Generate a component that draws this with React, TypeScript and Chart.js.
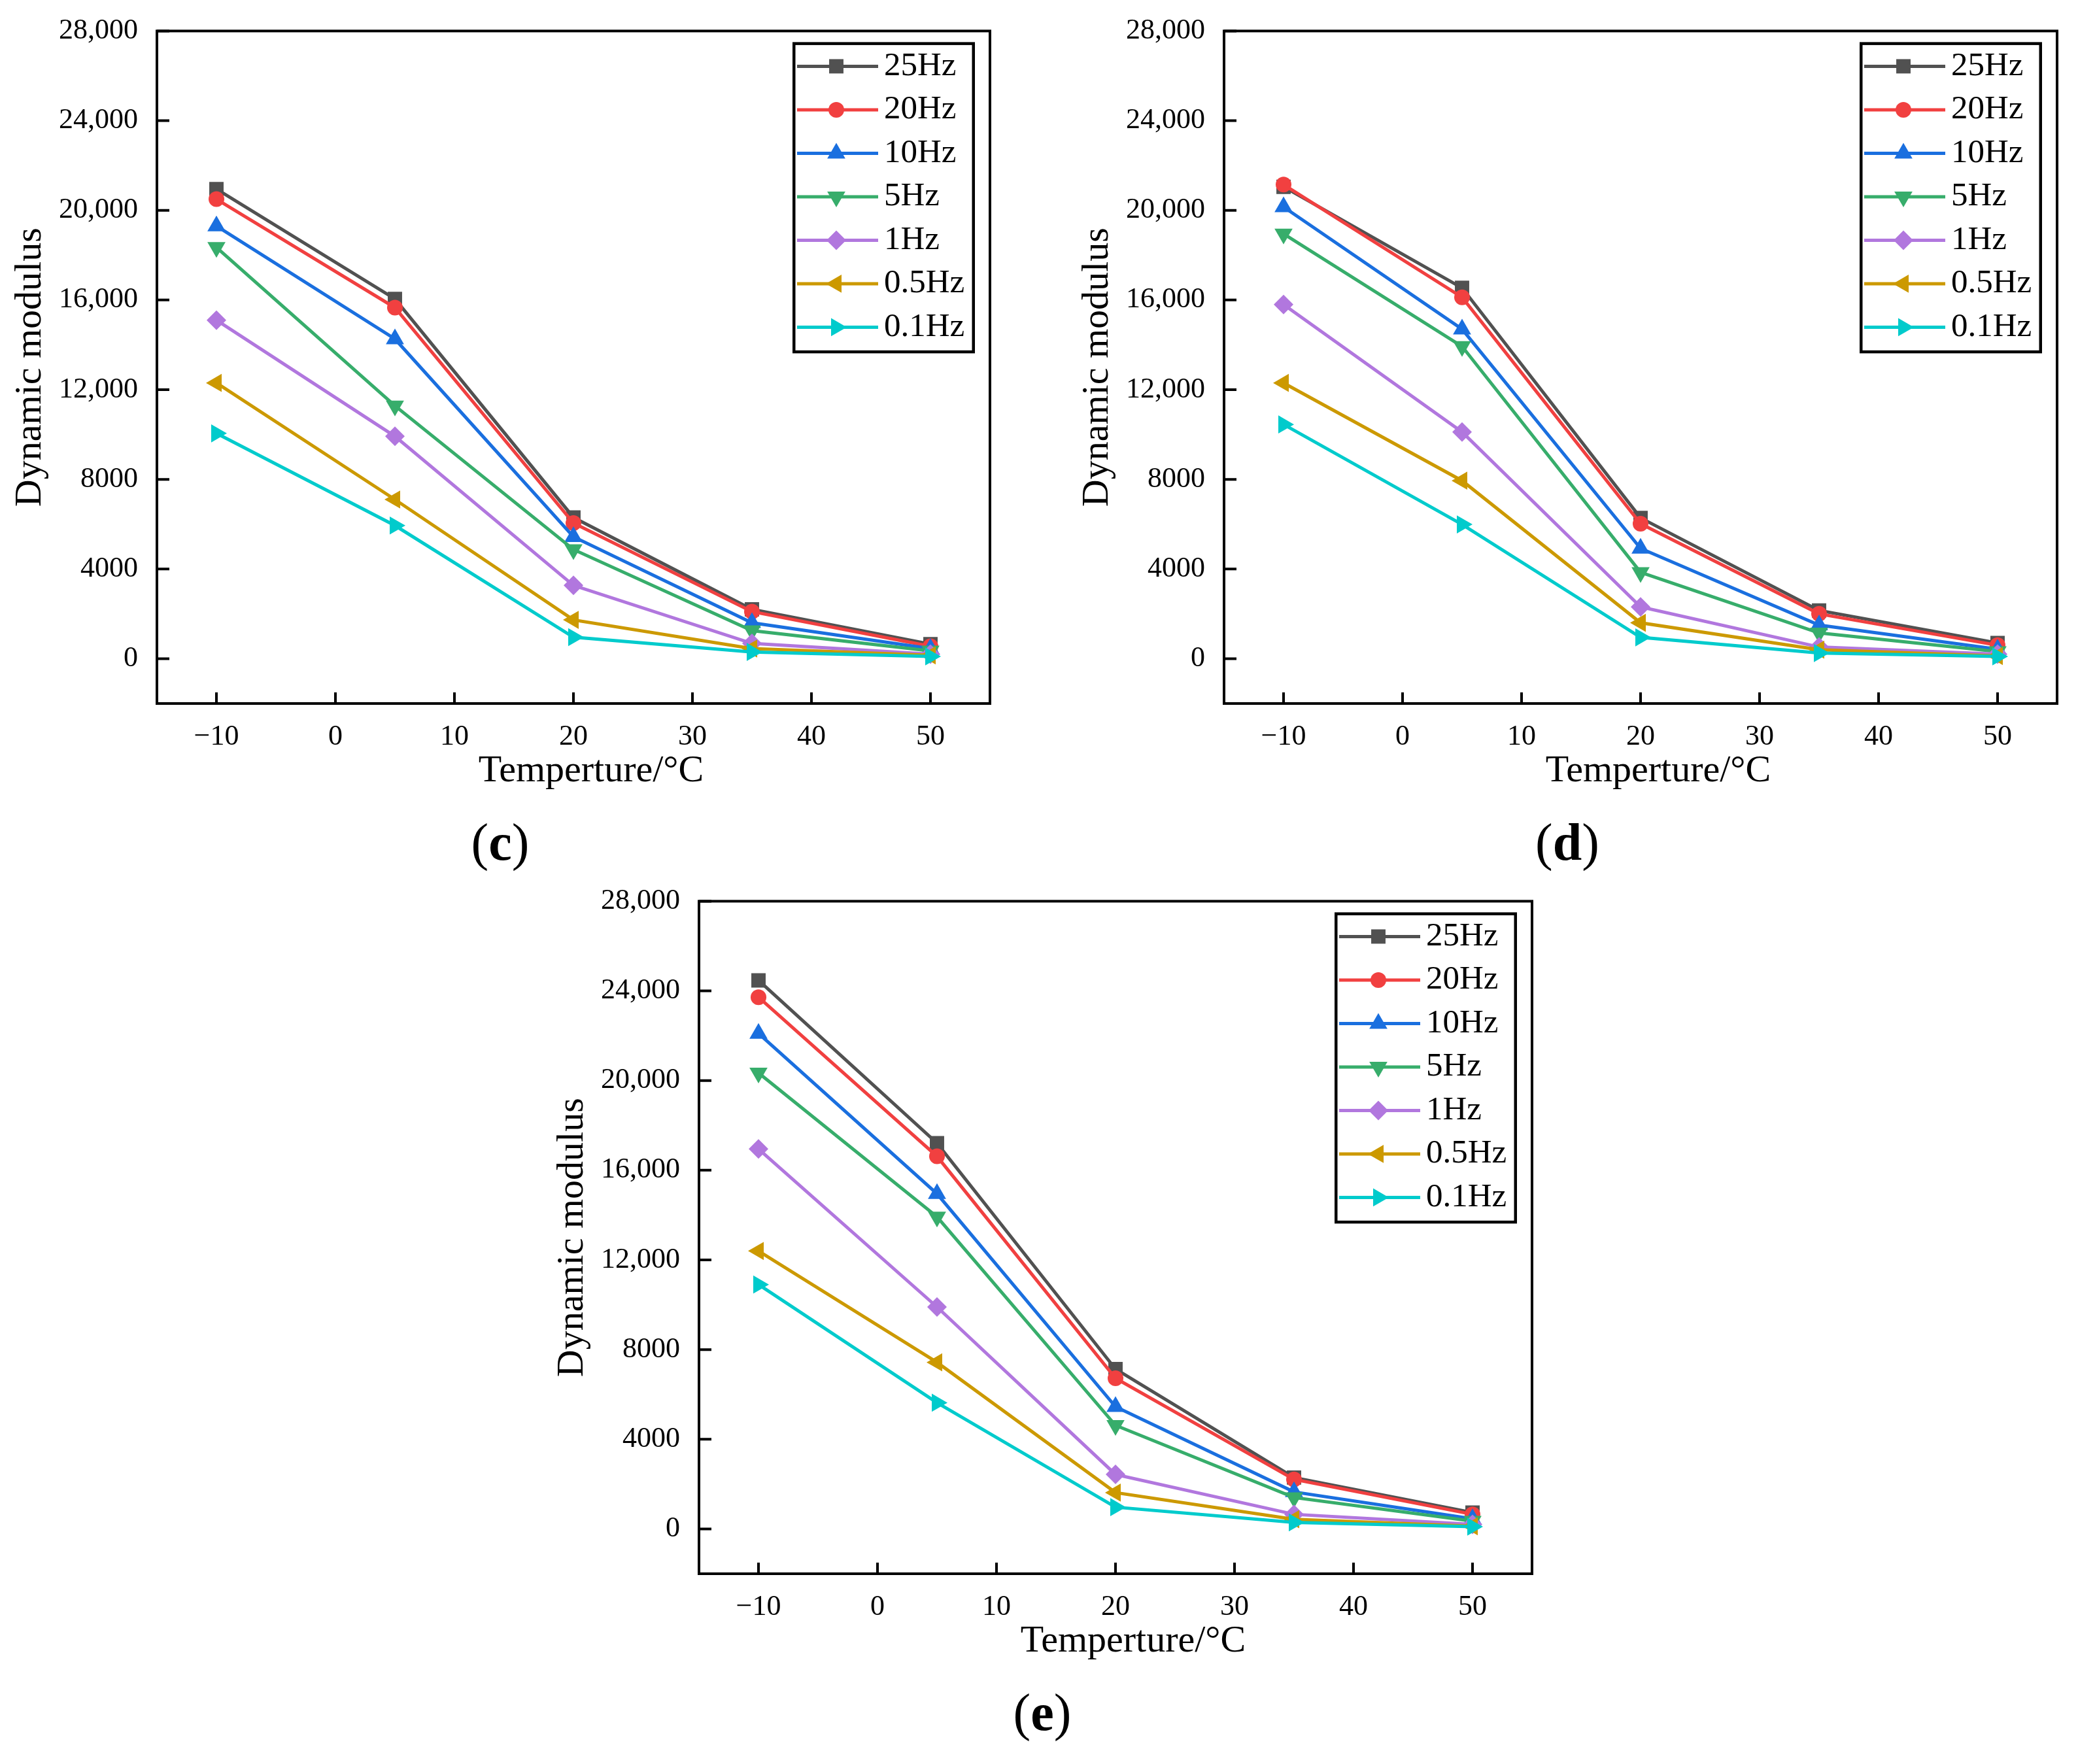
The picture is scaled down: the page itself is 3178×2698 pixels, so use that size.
import { useEffect, useRef } from 'react';
import { Chart, registerables } from 'chart.js';

Chart.register(...registerables);

// ---- data ----
const TEMPS = [-10, 5, 20, 35, 50];
const FREQS = ['25Hz', '20Hz', '10Hz', '5Hz', '1Hz', '0.5Hz', '0.1Hz'];

const X_TICKS = [-10, 0, 10, 20, 30, 40, 50];
const X_TICK_LABELS = ['\u221210', '0', '10', '20', '30', '40', '50'];
const Y_TICKS = [0, 4000, 8000, 12000, 16000, 20000, 24000, 28000];
const Y_TICK_LABELS = ['0', '4000', '8000', '12,000', '16,000', '20,000', '24,000', '28,000'];
const X_TITLE = 'Temperture/\u00B0C';
const Y_TITLE = 'Dynamic modulus';

// panel (c)
const C_25HZ = [20950, 16050, 6300, 2200, 650];
const C_20HZ = [20500, 15660, 6050, 2100, 550];
const C_10HZ = [19300, 14260, 5440, 1600, 450];
const C_5HZ = [18350, 11280, 4870, 1250, 350];
const C_1HZ = [15100, 9920, 3270, 680, 200];
const C_05HZ = [12300, 7100, 1730, 450, 150];
const C_01HZ = [10050, 5940, 960, 300, 100];

// panel (d)
const D_25HZ = [21050, 16540, 6280, 2150, 700];
const D_20HZ = [21150, 16120, 6020, 2000, 600];
const D_10HZ = [20150, 14700, 4920, 1500, 420];
const D_5HZ = [18950, 13930, 3850, 1150, 320];
const D_1HZ = [15800, 10110, 2310, 520, 200];
const D_05HZ = [12300, 7940, 1600, 400, 120];
const D_01HZ = [10450, 5990, 950, 250, 100];

// panel (e)
const E_25HZ = [24470, 17210, 7130, 2290, 730];
const E_20HZ = [23720, 16620, 6720, 2210, 650];
const E_10HZ = [22100, 14950, 5450, 1650, 450];
const E_5HZ = [20340, 13920, 4620, 1400, 350];
const E_1HZ = [16950, 9900, 2430, 650, 200];
const E_05HZ = [12400, 7430, 1620, 430, 120];
const E_01HZ = [10900, 5630, 970, 290, 100];

const COLORS = ['#515151', '#F14040', '#1A6FDF', '#37AD6B', '#B177DE', '#CC9900', '#00CBCC'];
const MARKERS: { style: string; rot: number; r: number }[] = [
  { style: 'rect', rot: 0, r: 15.5 },
  { style: 'circle', rot: 0, r: 12 },
  { style: 'triangle', rot: 0, r: 16 },
  { style: 'triangle', rot: 180, r: 16 },
  { style: 'rectRot', rot: 0, r: 15 },
  { style: 'triangle', rot: 270, r: 16 },
  { style: 'triangle', rot: 90, r: 16 },
];

const SERIF = '"Liberation Serif", "Times New Roman", serif';
const LINE_W = 5;

// ---- layout (px) ----
const AXIS_W = 240; // room left of the plot
const PAD_TOP = 39;
const PAD_RIGHT = 30;
const PLOT_W = 1274;
const PLOT_H = 1037;
const XAXIS_H = 150;
const CANVAS_W = AXIS_W + PLOT_W + PAD_RIGHT;
const CANVAS_H = PAD_TOP + PLOT_H + XAXIS_H;

function drawMarker(ctx: CanvasRenderingContext2D, style: string, rot: number, r: number, x: number, y: number) {
  ctx.beginPath();
  if (style === 'circle') {
    ctx.arc(x, y, r, 0, Math.PI * 2);
  } else if (style === 'rect') {
    const s = Math.SQRT1_2 * r;
    ctx.rect(x - s, y - s, 2 * s, 2 * s);
  } else if (style === 'rectRot') {
    ctx.moveTo(x - r, y);
    ctx.lineTo(x, y - r);
    ctx.lineTo(x + r, y);
    ctx.lineTo(x, y + r);
    ctx.closePath();
  } else {
    let a = (rot * Math.PI) / 180;
    ctx.moveTo(x + Math.sin(a) * r, y - Math.cos(a) * r);
    a += (2 * Math.PI) / 3;
    ctx.lineTo(x + Math.sin(a) * r, y - Math.cos(a) * r);
    a += (2 * Math.PI) / 3;
    ctx.lineTo(x + Math.sin(a) * r, y - Math.cos(a) * r);
    ctx.closePath();
  }
  ctx.fill();
}

// frame, inward ticks, x title and the boxed legend in the upper right
const framePlugin = {
  id: 'originFrame',
  afterDraw(chart: Chart) {
    const { ctx, chartArea } = chart;
    const { left, top, right, bottom } = chartArea;
    ctx.save();
    ctx.strokeStyle = '#000';
    ctx.lineWidth = 4;
    ctx.strokeRect(left, top, right - left, bottom - top);
    ctx.beginPath();
    X_TICKS.forEach((v) => {
      const px = chart.scales.x.getPixelForValue(v);
      ctx.moveTo(px, bottom);
      ctx.lineTo(px, bottom - 17);
    });
    Y_TICKS.forEach((v) => {
      const py = chart.scales.y.getPixelForValue(v);
      ctx.moveTo(left, py);
      ctx.lineTo(left + 19, py);
    });
    ctx.stroke();

    // x axis title, sits a little right of the plot centre in the original
    ctx.fillStyle = '#000';
    ctx.font = `58px ${SERIF}`;
    ctx.textAlign = 'center';
    ctx.textBaseline = 'alphabetic';
    ctx.fillText(X_TITLE, (left + right) / 2 + 27, bottom + 119);

    // legend
    const bx = right - 302 + 2.25;
    const by = top + 17 + 2.25;
    ctx.fillStyle = '#fff';
    ctx.fillRect(bx, by, 274.5, 471.5);
    ctx.lineWidth = 4.5;
    ctx.strokeRect(bx, by, 274.5, 471.5);
    ctx.font = `51px ${SERIF}`;
    ctx.textBaseline = 'middle';
    ctx.textAlign = 'left';
    FREQS.forEach((label, i) => {
      const y = top + 17 + 37 + i * 66.5;
      const x0 = right - 302;
      ctx.strokeStyle = COLORS[i];
      ctx.lineWidth = LINE_W;
      ctx.beginPath();
      ctx.moveTo(x0 + 7, y);
      ctx.lineTo(x0 + 131, y);
      ctx.stroke();
      ctx.fillStyle = COLORS[i];
      const m = MARKERS[i];
      drawMarker(ctx, m.style, m.rot, m.r, x0 + 67, y);
      ctx.fillStyle = '#000';
      ctx.fillText(label, x0 + 140, y);
    });
    ctx.restore();
  },
};

function Panel({ series, plotLeft, plotTop, tag }: { series: number[][]; plotLeft: number; plotTop: number; tag: string }) {
  const canvasRef = useRef<HTMLCanvasElement>(null);
  const chartRef = useRef<Chart | null>(null);

  useEffect(() => {
    if (!canvasRef.current) return;
    chartRef.current?.destroy();
    chartRef.current = new Chart(canvasRef.current, {
      type: 'line',
      data: {
        datasets: series.map((vals, i) => ({
          label: FREQS[i],
          data: TEMPS.map((t, j) => ({ x: t, y: vals[j] })),
          borderColor: COLORS[i],
          backgroundColor: COLORS[i],
          pointBackgroundColor: COLORS[i],
          pointBorderColor: COLORS[i],
          pointBorderWidth: 0,
          pointStyle: MARKERS[i].style as any,
          pointRotation: MARKERS[i].rot,
          pointRadius: MARKERS[i].r,
          borderWidth: LINE_W,
          tension: 0,
          order: FREQS.length - i,
        })),
      },
      options: {
        animation: false,
        responsive: true,
        maintainAspectRatio: false,
        layout: { padding: { top: PAD_TOP, right: PAD_RIGHT, left: 0, bottom: 0 } },
        plugins: { legend: { display: false }, tooltip: { enabled: false } },
        scales: {
          x: {
            type: 'linear',
            min: -15,
            max: 55,
            afterBuildTicks: (s) => { s.ticks = X_TICKS.map((v) => ({ value: v })); },
            afterFit: (s) => { s.height = XAXIS_H; },
            grid: { display: false },
            border: { display: false },
            ticks: {
              autoSkip: false,
              maxRotation: 0,
              padding: 17,
              color: '#000',
              font: { family: SERIF, size: 44 },
              callback: (v) => X_TICK_LABELS[X_TICKS.indexOf(Number(v))] ?? '',
            },
          },
          y: {
            type: 'linear',
            min: -2000,
            max: 28000,
            afterBuildTicks: (s) => { s.ticks = Y_TICKS.map((v) => ({ value: v })); },
            afterFit: (s) => { s.width = AXIS_W; },
            grid: { display: false },
            border: { display: false },
            ticks: {
              autoSkip: false,
              padding: 21,
              color: '#000',
              font: { family: SERIF, size: 44 },
              callback: (v) => Y_TICK_LABELS[Y_TICKS.indexOf(Number(v))] ?? '',
            },
            title: {
              display: true,
              text: Y_TITLE,
              color: '#000',
              font: { family: SERIF, size: 58 },
              padding: { top: 12, bottom: 0 },
            },
          },
        },
      },
      plugins: [framePlugin],
    });
    return () => { chartRef.current?.destroy(); };
  }, [series]);

  const cx = plotLeft + PLOT_W / 2 - 112;
  const cy = plotTop + 1255;
  return (
    <>
      <div
        style={{
          position: 'absolute',
          left: plotLeft - AXIS_W,
          top: plotTop - PAD_TOP,
          width: CANVAS_W,
          height: CANVAS_H,
        }}
      >
        <canvas ref={canvasRef} />
      </div>
      <div
        style={{
          position: 'absolute',
          left: cx - 100,
          top: cy - 46,
          width: 200,
          height: 80,
          lineHeight: '80px',
          textAlign: 'center',
          fontFamily: SERIF,
          fontSize: 80,
          color: '#000',
        }}
      >
        (<b>{tag}</b>)
      </div>
    </>
  );
}

const SERIES_C = [C_25HZ, C_20HZ, C_10HZ, C_5HZ, C_1HZ, C_05HZ, C_01HZ];
const SERIES_D = [D_25HZ, D_20HZ, D_10HZ, D_5HZ, D_1HZ, D_05HZ, D_01HZ];
const SERIES_E = [E_25HZ, E_20HZ, E_10HZ, E_5HZ, E_1HZ, E_05HZ, E_01HZ];

export default function App() {
  return (
    <div
      style={{
        position: 'absolute',
        left: 0,
        top: 0,
        width: 3178,
        height: 2698,
        overflow: 'hidden',
        background: '#fff',
      }}
    >
      <Panel series={SERIES_C} plotLeft={240} plotTop={39} tag="c" />
      <Panel series={SERIES_D} plotLeft={1872} plotTop={39} tag="d" />
      <Panel series={SERIES_E} plotLeft={1069} plotTop={1370} tag="e" />
    </div>
  );
}
